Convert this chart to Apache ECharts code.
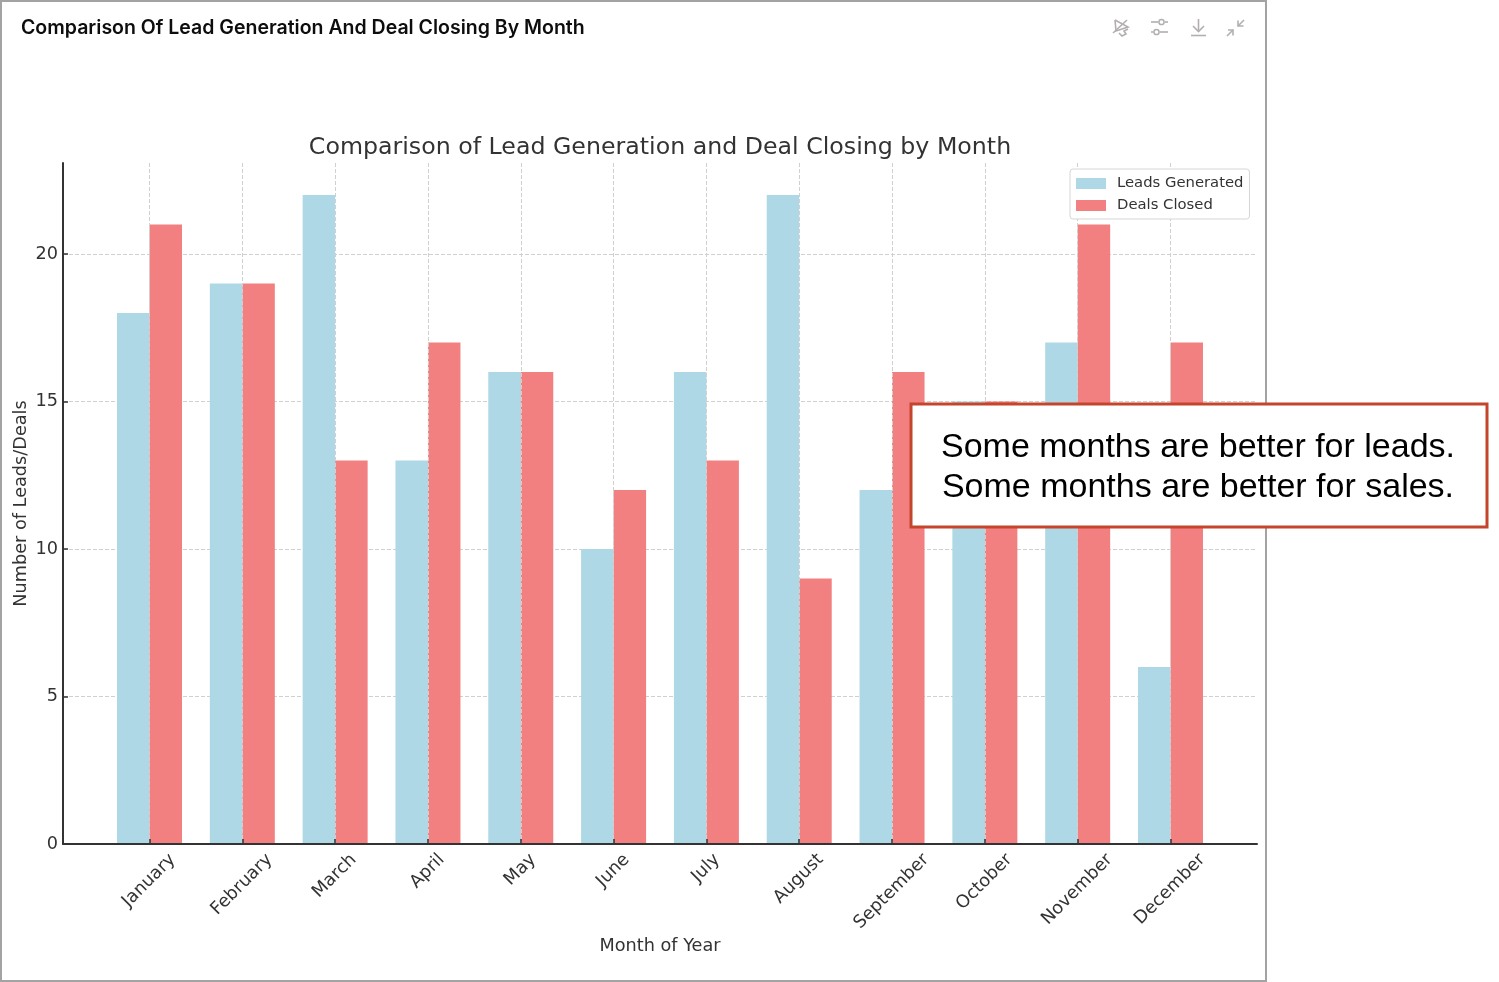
<!DOCTYPE html>
<html>
<head>
<meta charset="utf-8">
<title>Comparison Of Lead Generation And Deal Closing By Month</title>
<style>
  html, body { margin: 0; padding: 0; background: #fff; }
  #chart { width: 1499px; height: 982px; }
</style>
<script src="https://cdn.jsdelivr.net/npm/echarts@6/dist/echarts.min.js"></script>
</head>
<body>
<div id="chart"></div>
<script>
const months = ['January', 'February', 'March', 'April', 'May', 'June', 'July', 'August', 'September', 'October', 'November', 'December']
const leadsGenerated = [18, 19, 22, 13, 16, 10, 16, 22, 12, 15, 17, 6]
const dealsClosed = [21, 19, 13, 17, 16, 12, 13, 9, 16, 15, 21, 17]
const yTicks = [0, 5, 10, 15, 20]
const monthIndexes = months.map((m, i) => i)

const labelFont = '17.7px "DejaVu Sans"'
const inkColor = '#333333'
const iconColor = '#b3aeb0'

// month labels are centred on the tick like matplotlib does, so the centre drops with text length
const ctx = document.createElement('canvas').getContext('2d')
ctx.font = labelFont

function renderMonthLabel(params, api) {
  const i = api.value(0)
  const pos = api.coord([i, 0])
  const w = ctx.measureText(months[i]).width
  const drop = 8 + (w + 14) * Math.SQRT1_2 / 2
  return {
    type: 'text',
    x: pos[0] - 0.5,
    y: pos[1] + drop,
    rotation: Math.PI / 4,
    style: { text: months[i], font: labelFont, fill: inkColor, align: 'center', verticalAlign: 'middle' }
  }
}

function iconLine(points) {
  return {
    type: 'polyline',
    z: 20,
    silent: true,
    shape: { points },
    style: { fill: 'none', stroke: iconColor, lineWidth: 1.6 }
  }
}

function iconDot(cx, cy) {
  return {
    type: 'circle',
    z: 20,
    silent: true,
    shape: { cx, cy, r: 2.6 },
    style: { fill: '#fff', stroke: iconColor, lineWidth: 1.5 }
  }
}

const chart = echarts.init(document.getElementById('chart'))

chart.setOption({
  animation: false,
  backgroundColor: '#fff',
  title: [
    {
      text: 'Comparison Of Lead Generation And Deal Closing By Month',
      left: 21, top: 18, padding: 0,
      textStyle: { fontFamily: 'Inter', fontWeight: 600, fontSize: 19.5, color: '#0d0d0d' }
    },
    {
      text: 'Comparison of Lead Generation and Deal Closing by Month',
      left: 660, top: 136, padding: 0, textAlign: 'center',
      textStyle: { fontFamily: 'DejaVu Sans', fontWeight: 'normal', fontSize: 23.7, color: inkColor }
    }
  ],
  legend: {
    data: ['Leads Generated', 'Deals Closed'],
    orient: 'vertical',
    icon: 'rect',
    left: 1070, top: 169,
    padding: [7, 6, 6, 6],
    itemWidth: 30, itemHeight: 11, itemGap: 7,
    borderColor: '#d6d6d6', borderWidth: 1, borderRadius: 3,
    backgroundColor: '#fff',
    textStyle: { fontFamily: 'DejaVu Sans', fontSize: 14.8, color: inkColor, padding: [0, 0, 0, 6] }
  },
  grid: { left: 63, right: 242, top: 163, bottom: 138, outerBoundsMode: 'none' },
  xAxis: {
    type: 'value',
    z: 3,
    min: -0.932, max: 11.932,
    name: 'Month of Year',
    nameLocation: 'middle',
    nameGap: 93,
    nameTextStyle: { fontFamily: 'DejaVu Sans', fontSize: 17.7, color: inkColor },
    axisLine: { onZero: false, lineStyle: { color: inkColor, width: 2 } },
    axisTick: { show: true, inside: true, length: 5, customValues: monthIndexes, lineStyle: { color: inkColor, width: 1.5 } },
    axisLabel: { show: false },
    splitLine: { show: true, lineStyle: { color: '#d0d0d0', type: [4, 2], width: 1 } }
  },
  yAxis: {
    type: 'value',
    min: 0, max: 23.085,
    name: 'Number of Leads/Deals',
    nameLocation: 'middle',
    nameGap: 33,
    nameMoveOverlap: false,
    nameTextStyle: { fontFamily: 'DejaVu Sans', fontSize: 17.7, color: inkColor },
    axisLine: { show: true, onZero: false, lineStyle: { color: inkColor, width: 2 } },
    axisTick: { show: true, inside: true, length: 5, customValues: yTicks, lineStyle: { color: inkColor, width: 1.5 } },
    axisLabel: { customValues: yTicks, margin: 5, fontFamily: 'DejaVu Sans', fontSize: 17.7, color: inkColor },
    splitLine: { show: true, lineStyle: { color: '#d0d0d0', type: [4, 2], width: 1 } }
  },
  series: [
    {
      name: 'Leads Generated',
      type: 'bar',
      barWidth: 32.5,
      barGap: 0,
      itemStyle: { color: '#aed8e5' },
      data: leadsGenerated.map((v, i) => [i, v])
    },
    {
      name: 'Deals Closed',
      type: 'bar',
      barWidth: 32.5,
      barGap: 0,
      itemStyle: { color: '#f28080' },
      data: dealsClosed.map((v, i) => [i, v])
    },
    {
      name: 'Month labels',
      type: 'custom',
      silent: true,
      renderItem: renderMonthLabel,
      encode: { x: 0 },
      data: monthIndexes.map(i => [i])
    }
  ],
  graphic: [
    { type: 'rect', z: 1, silent: true, shape: { x: 1, y: 1, width: 1265, height: 980 }, style: { fill: 'none', stroke: '#a3a3a3', lineWidth: 2 } },
    // toolbar icons
    iconLine([[1115, 20], [1128, 27], [1116, 31], [1115, 20]]),
    iconLine([[1113, 33], [1127, 20]]),
    iconLine([[1119, 33], [1122, 36], [1126, 34], [1124, 31], [1128, 29]]),
    iconLine([[1151, 22], [1158, 22]]),
    iconLine([[1165, 22], [1168, 22]]),
    iconLine([[1151, 32], [1153, 32]]),
    iconLine([[1160, 32], [1168, 32]]),
    iconDot(1161.5, 22),
    iconDot(1156.5, 32),
    iconLine([[1198.5, 19], [1198.5, 31]]),
    iconLine([[1193, 26], [1198.5, 31.5], [1204, 26]]),
    iconLine([[1191, 35.5], [1206, 35.5]]),
    iconLine([[1244, 20], [1238, 26]]),
    iconLine([[1238, 20.5], [1238, 26], [1243.5, 26]]),
    iconLine([[1227, 36], [1233, 30]]),
    iconLine([[1228, 30], [1233, 30], [1233, 35.5]]),
    // callout
    {
      type: 'rect', z: 30, silent: true,
      shape: { x: 911, y: 404, width: 576, height: 123 },
      style: { fill: '#fff', stroke: '#c4452c', lineWidth: 3 }
    },
    {
      type: 'text', z: 31, silent: true, x: 1198, y: 468,
      style: {
        text: 'Some months are better for leads.\nSome months are better for sales.',
        font: '34px "Liberation Sans"', fill: '#000', align: 'center', verticalAlign: 'middle', lineHeight: 40
      }
    }
  ]
})
</script>
</body>
</html>
